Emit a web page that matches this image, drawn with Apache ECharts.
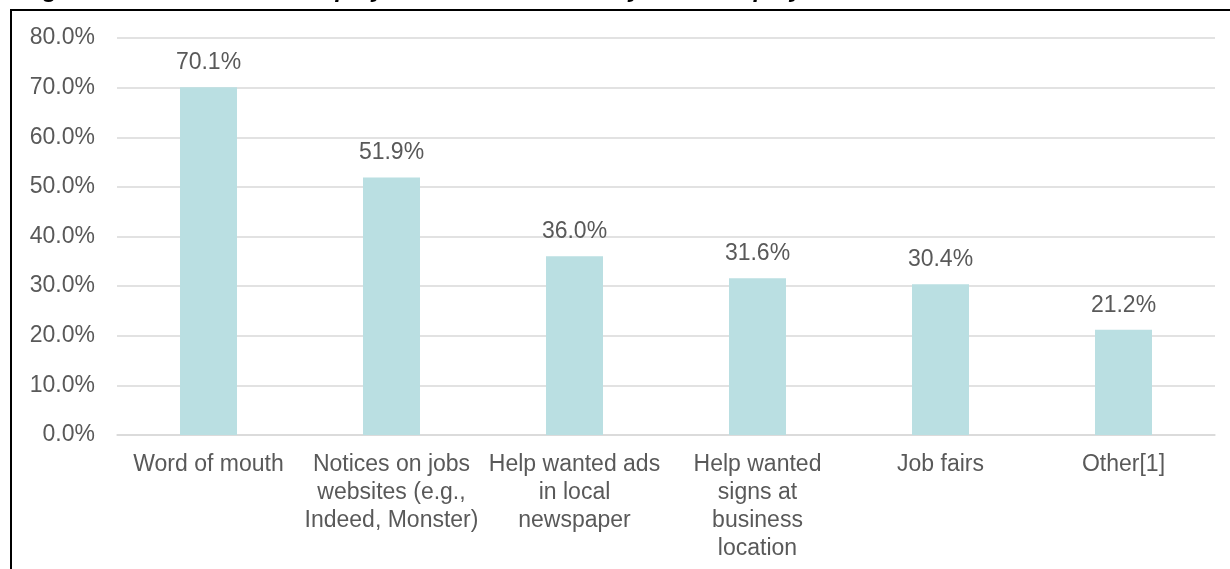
<!DOCTYPE html>
<html>
<head>
<meta charset="utf-8">
<title>Recruitment methods</title>
<script src="https://cdn.jsdelivr.net/npm/echarts@6/dist/echarts.min.js"></script>
<style>
  html, body { margin: 0; padding: 0; background: #ffffff; }
  #chart { width: 1230px; height: 569px; }
</style>
</head>
<body>
<div id="chart"></div>
<script>
// Recruitment methods and share of employers using each
const categories = [
  'Word of mouth',
  'Notices on jobs\nwebsites (e.g.,\nIndeed, Monster)',
  'Help wanted ads\nin local\nnewspaper',
  'Help wanted\nsigns at\nbusiness\nlocation',
  'Job fairs',
  'Other[1]'
];
const shares = [0.701, 0.519, 0.360, 0.316, 0.304, 0.212];
const titleText = 'Figure 8. How Seasonal Employees Were Recruited by CNMI Employers';

const FONT = '"Liberation Sans", Arial, sans-serif';
const TEXT = '#595959';
const pct = v => (v * 100).toFixed(1) + '%';

const chart = echarts.init(document.getElementById('chart'), null, { renderer: 'canvas' });
chart.setOption({
  animation: false,
  backgroundColor: '#ffffff',
  textStyle: { fontFamily: FONT },
  grid: { left: 117, right: 15, top: 38, bottom: 134, containLabel: false },
  xAxis: {
    type: 'category',
    data: categories,
    axisTick: { show: false },
    axisLine: { show: true, lineStyle: { color: '#D9D9D9', width: 1.5 } },
    axisLabel: {
      interval: 0,
      margin: 16,
      color: TEXT,
      fontFamily: FONT,
      fontSize: 23,
      lineHeight: 28,
      align: 'center'
    }
  },
  yAxis: {
    type: 'value',
    min: 0,
    max: 0.8,
    interval: 0.1,
    axisLine: { show: false },
    axisTick: { show: false },
    splitLine: { lineStyle: { color: '#D9D9D9', width: 1.5 } },
    axisLabel: {
      margin: 22,
      color: TEXT,
      fontFamily: FONT,
      fontSize: 23,
      formatter: pct
    }
  },
  series: [{
    type: 'bar',
    data: shares,
    barWidth: 57,
    itemStyle: { color: '#BADFE2' },
    label: {
      show: true,
      position: 'top',
      distance: 13,
      color: TEXT,
      fontFamily: FONT,
      fontSize: 23,
      formatter: p => pct(p.value)
    }
  }],
  graphic: [
    {
      type: 'rect',
      silent: true,
      shape: { x: 11, y: 10, width: 1400, height: 800 },
      style: { fill: 'none', stroke: '#000000', lineWidth: 2 }
    },
    {
      type: 'text',
      silent: true,
      x: 22,
      y: -10,
      style: {
        text: titleText,
        fontFamily: FONT,
        fontSize: 24,
        fontWeight: 'bold',
        fontStyle: 'italic',
        fill: '#000000',
        verticalAlign: 'middle',
        align: 'left'
      }
    }
  ]
});
</script>
</body>
</html>
